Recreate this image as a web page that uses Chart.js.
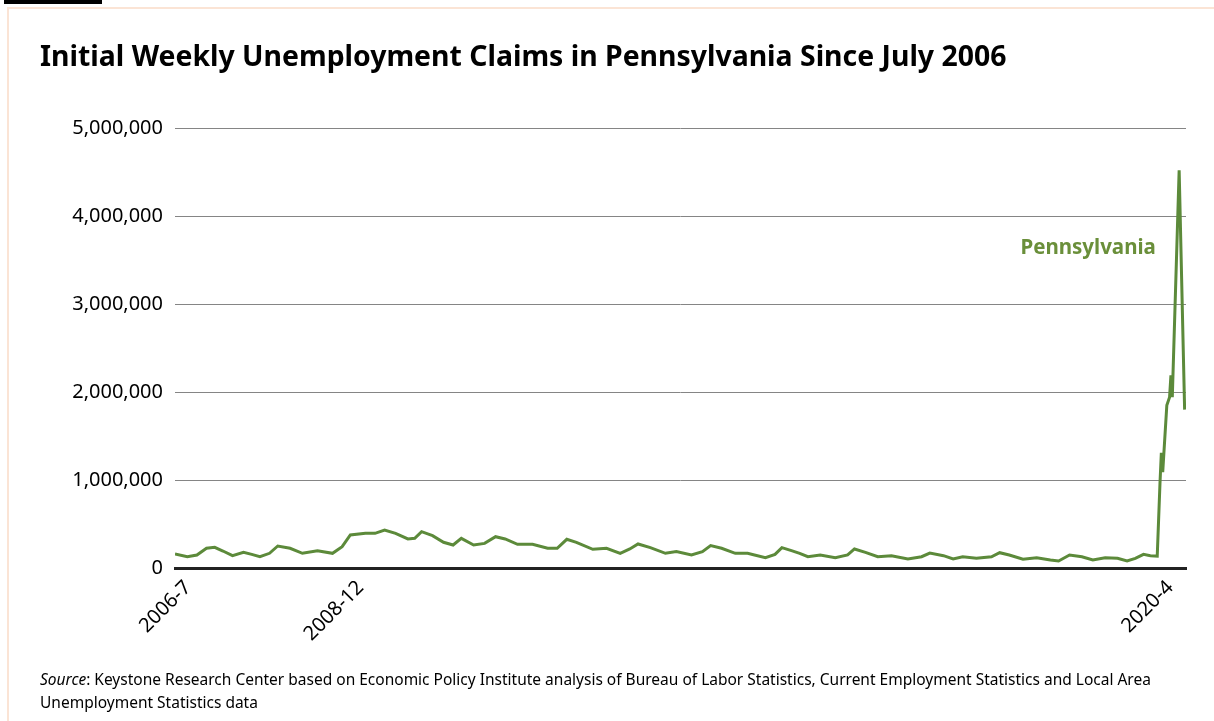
<!DOCTYPE html>
<html>
<head>
<meta charset="utf-8">
<title>Initial Weekly Unemployment Claims in Pennsylvania</title>
<script src="https://cdn.jsdelivr.net/npm/chart.js@4/dist/chart.umd.min.js"></script>
<style>
  html, body { margin: 0; padding: 0; background: #fff; }
  body { width: 1214px; height: 721px; position: relative; overflow: hidden; font-family: "Noto Sans", "Open Sans", sans-serif; color: #000; }
  #bar { position: absolute; left: 4px; top: 0; width: 98px; height: 4px; background: #000; }
  #frame { position: absolute; left: 7px; top: 7px; width: 1240px; height: 740px; border-left: 2px solid #fbe4d5; border-top: 2px solid #fbe4d5; }
  #title { position: absolute; left: 40px; top: 36px; font-weight: 700; font-size: 28.4px; white-space: nowrap; }
  #chartBox { position: absolute; left: 0; top: 0; width: 1214px; height: 721px; }
  #source { position: absolute; left: 40px; top: 668px; font-size: 15.5px; line-height: 23px; white-space: nowrap; }
</style>
</head>
<body>
<div id="bar"></div>
<div id="frame"></div>
<div id="chartBox"><canvas id="chart" width="1214" height="721"></canvas></div>
<div id="title">Initial Weekly Unemployment Claims in Pennsylvania Since July 2006</div>
<div id="source"><i>Source</i>: Keystone Research Center based on Economic Policy Institute analysis of Bureau of Labor Statistics, Current Employment Statistics and Local Area<br>Unemployment Statistics data</div>
<script>
// Week number counted from the first week of July 2006
const weekIndex = [
  0, 9, 16, 23, 29, 35, 42, 50, 56, 62,
  69, 75, 84, 93, 104, 115, 122, 128, 139, 146,
  153, 161, 170, 175, 180, 188, 196, 203, 209, 218,
  226, 234, 241, 250, 261, 272, 279, 286, 293, 305,
  315, 325, 332, 338, 347, 358, 366, 377, 385, 391,
  399, 409, 418, 423, 431, 438, 443, 450, 456, 462,
  471, 482, 491, 496, 504, 513, 523, 535, 545, 551,
  561, 568, 575, 585, 596, 602, 609, 619, 629, 639,
  645, 653, 662, 670, 679, 688, 695, 701, 707, 712,
  717, 719, 720, 721, 724, 726, 727, 728, 733, 737
];

// Pennsylvania weekly claims
const claims = [
  159000, 128000, 148000, 224000, 235000, 193000, 140000, 178000, 155000, 128000,
  167000, 250000, 224000, 167000, 197000, 167000, 242000, 375000, 394000, 394000,
  432000, 394000, 330000, 337000, 413000, 367000, 292000, 261000, 337000, 261000,
  280000, 356000, 330000, 269000, 269000, 224000, 224000, 326000, 292000, 212000,
  224000, 167000, 216000, 273000, 231000, 167000, 186000, 148000, 186000, 254000,
  224000, 167000, 167000, 148000, 117000, 155000, 231000, 197000, 167000, 128000,
  148000, 117000, 148000, 216000, 178000, 128000, 140000, 102000, 128000, 170000,
  140000, 102000, 128000, 110000, 128000, 174000, 148000, 99000, 117000, 91000,
  80000, 148000, 128000, 91000, 117000, 110000, 80000, 110000, 155000, 140000,
  135000, 960000, 1310000, 1090000, 1850000, 1940000, 2190000, 1940000, 4520000, 1800000
];

// Labelled weeks on the time axis
const tickWeeks = [0, 126, 717];
const tickLabels = ['2006-7', '2008-12', '2020-4'];

// Value axis
const yTicks = [0, 1000000, 2000000, 3000000, 4000000, 5000000];

const seriesName = 'Pennsylvania';
const seriesLabelAt = { week: 716, value: 3640000 };

const FONT = '"Noto Sans", "Open Sans", sans-serif';
const GREEN = '#5c8a3a';
const LABEL_GREEN = '#6a8f3a';

const seriesLabel = {
  id: 'seriesLabel',
  afterDatasetsDraw(chart) {
    const { ctx, scales } = chart;
    ctx.save();
    ctx.font = `700 20.5px ${FONT}`;
    ctx.fillStyle = LABEL_GREEN;
    ctx.textAlign = 'right';
    ctx.textBaseline = 'middle';
    ctx.fillText(seriesName,
      scales.x.getPixelForValue(seriesLabelAt.week),
      scales.y.getPixelForValue(seriesLabelAt.value));
    ctx.restore();
  }
};

new Chart(document.getElementById('chart'), {
  type: 'line',
  data: {
    datasets: [{
      label: seriesName,
      data: weekIndex.map((w, i) => ({ x: w, y: claims[i] })),
      borderColor: GREEN,
      borderWidth: 3,
      pointRadius: 0,
      tension: 0,
      fill: false
    }]
  },
  options: {
    responsive: false,
    animation: false,
    layout: { padding: { top: 128, right: 28, bottom: 73, left: 0 } },
    plugins: { legend: { display: false }, tooltip: { enabled: false } },
    scales: {
      x: {
        type: 'linear',
        min: 0,
        max: 738,
        grid: { display: false, drawTicks: false },
        border: { display: true, color: '#222', width: 3 },
        afterBuildTicks: s => { s.ticks = tickWeeks.map(v => ({ value: v })); },
        afterFit: s => { s.height = 80; },
        ticks: {
          autoSkip: false,
          minRotation: 45,
          maxRotation: 45,
          padding: 8,
          labelOffset: 13,
          color: '#000',
          font: { family: FONT, size: 20 },
          callback: v => tickLabels[tickWeeks.indexOf(v)]
        }
      },
      y: {
        min: 0,
        max: 5000000,
        afterBuildTicks: s => { s.ticks = yTicks.map(v => ({ value: v })); },
        afterFit: s => { s.width = 175; },
        grid: { color: '#858585', lineWidth: 1, drawTicks: false },
        border: { display: false },
        ticks: {
          padding: 12,
          color: '#000',
          font: { family: FONT, size: 20 },
          callback: v => v.toLocaleString('en-US')
        }
      }
    }
  },
  plugins: [seriesLabel]
});
</script>
</body>
</html>
